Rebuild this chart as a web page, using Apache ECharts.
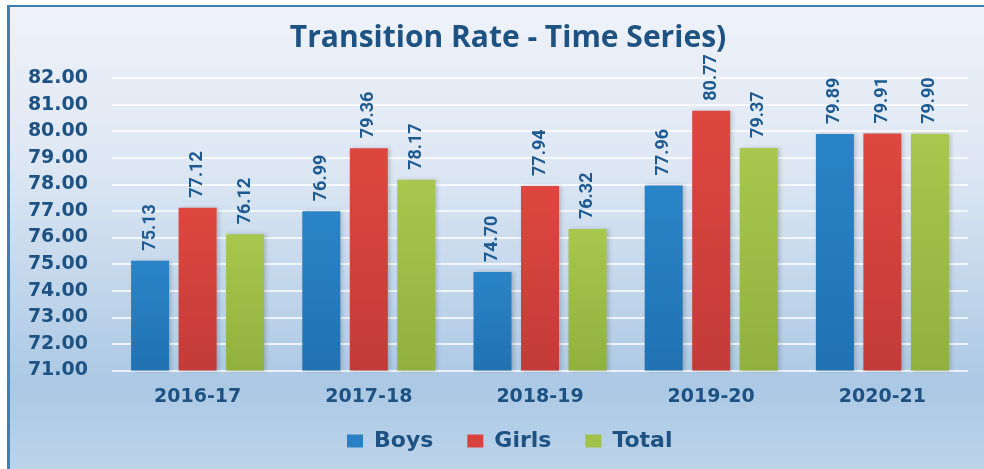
<!DOCTYPE html>
<html>
<head>
<meta charset="utf-8">
<script src="https://cdn.jsdelivr.net/npm/echarts@6/dist/echarts.min.js"></script>
<style>
html,body{margin:0;padding:0;background:#ffffff;}
#chart{width:984px;height:469px;}
</style>
</head>
<body>
<div id="chart"></div>
<script>
const categories = ['2016-17', '2017-18', '2018-19', '2019-20', '2020-21'];
const boys = [75.13, 76.99, 74.70, 77.96, 79.89];
const girls = [77.12, 79.36, 77.94, 80.77, 79.91];
const total = [76.12, 78.17, 76.32, 79.37, 79.90];
const seriesNames = ['Boys', 'Girls', 'Total'];
const yMin = 71, yMax = 82, yStep = 1;

const chart = echarts.init(document.getElementById('chart'), null, {renderer: 'canvas'});
const txt = '#1d5283';
function grad(top, bottom) {
  return new echarts.graphic.LinearGradient(0, 0, 0, 1, [
    {offset: 0, color: top}, {offset: 1, color: bottom}
  ]);
}
const colors = [grad('#2a84c7', '#2072b2'), grad('#de473f', '#c33b39'), grad('#a8c74e', '#92b03e')];
const legendColors = ['#2a80c4', '#d8423d', '#a2c148'];

function mk(name, data, i) {
  return {
    name: name, type: 'bar', data: data,
    barWidth: 38, barGap: '25%',
    itemStyle: {color: colors[i], shadowBlur: 4, shadowColor: 'rgba(0,0,0,0.18)', shadowOffsetX: 2, shadowOffsetY: 0},
    label: {
      show: true, position: 'top', rotate: 90, distance: 10,
      align: 'left', verticalAlign: 'middle',
      formatter: p => p.value.toFixed(2),
      color: '#1d5a91', fontFamily: 'Roboto', fontWeight: 'bold', fontSize: 18
    }
  };
}

chart.setOption({
  animation: false,
  backgroundColor: 'transparent',
  color: legendColors,
  graphic: [
    {type: 'rect', z: -10, silent: true, shape: {x: 7, y: 5, width: 977, height: 464},
     style: {fill: new echarts.graphic.LinearGradient(0, 0, 0, 1, [
       {offset: 0, color: '#eff2f9'},
       {offset: 0.35, color: '#dde7f3'},
       {offset: 0.82, color: '#abc8e4'},
       {offset: 1, color: '#bcd4ea'}
     ])}},
    {type: 'rect', z: -9, silent: true, shape: {x: 7, y: 5, width: 977, height: 2}, style: {fill: '#3b7fb4'}},
    {type: 'rect', z: -9, silent: true, shape: {x: 7, y: 5, width: 3, height: 464}, style: {fill: '#3b80b8'}}
  ],
  title: {
    text: 'Transition Rate - Time Series)',
    left: 503, top: 18, textAlign: 'center',
    textStyle: {color: txt, fontFamily: 'Open Sans', fontWeight: 'bold', fontSize: 30}
  },
  legend: {
    data: seriesNames.map((n, i) => ({name: n, itemStyle: {color: legendColors[i]}})),
    left: 342, top: 425, itemWidth: 16, itemHeight: 13, itemGap: 34,
    icon: 'rect',
    textStyle: {color: txt, fontFamily: 'DejaVu Sans', fontWeight: 'bold', fontSize: 22, padding: [0, 0, 0, 6]}
  },
  grid: {left: 112, right: 16, top: 78, bottom: 98.5, containLabel: false},
  xAxis: {
    type: 'category', data: categories,
    axisLine: {show: false}, axisTick: {show: false},
    axisLabel: {color: txt, fontFamily: 'DejaVu Sans', fontWeight: 'bold', fontSize: 19, margin: 17}
  },
  yAxis: {
    type: 'value', min: yMin, max: yMax, interval: yStep,
    axisLine: {show: false}, axisTick: {show: false},
    axisLabel: {color: txt, fontFamily: 'DejaVu Sans', fontWeight: 'bold', fontSize: 19, margin: 24,
      formatter: v => v.toFixed(2)},
    splitLine: {lineStyle: {color: 'rgba(255,255,255,0.75)', width: 2}}
  },
  series: [mk('Boys', boys, 0), mk('Girls', girls, 1), mk('Total', total, 2)]
});
</script>
</body>
</html>
